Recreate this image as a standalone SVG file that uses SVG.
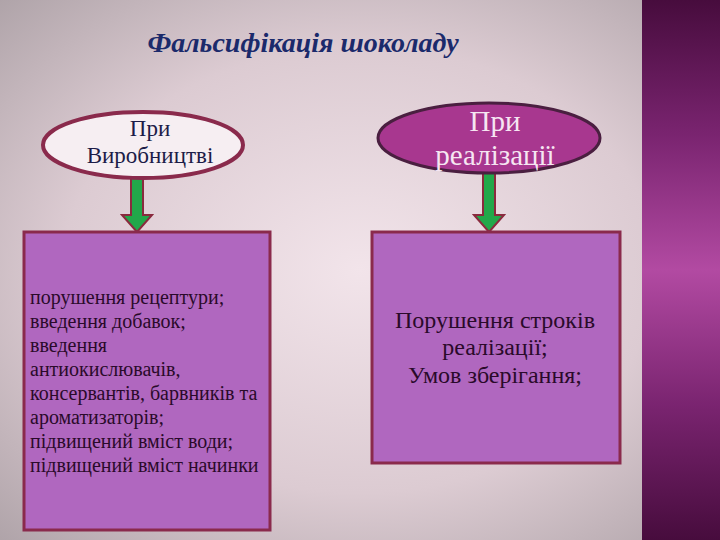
<svg xmlns="http://www.w3.org/2000/svg" width="720" height="540" viewBox="0 0 720 540">
<defs>
<radialGradient id="bg" cx="0.5" cy="0.5" r="0.75">
<stop offset="0" stop-color="#f2e4ea"/>
<stop offset="0.55" stop-color="#dccbd2"/>
<stop offset="1" stop-color="#a99ea3"/>
</radialGradient>
<linearGradient id="band" x1="0" y1="0" x2="0" y2="1">
<stop offset="0" stop-color="#470c3d"/>
<stop offset="0.25" stop-color="#7a2470"/>
<stop offset="0.5" stop-color="#b24aa2"/>
<stop offset="0.75" stop-color="#7a2470"/>
<stop offset="1" stop-color="#470c3d"/>
</linearGradient>
<style>
.box{fill:#b067bf;stroke:#8a2a4c;stroke-width:3}
.arrow{fill:#22a84a;stroke:#8a2a3e;stroke-width:2}
.t{font-family:"Liberation Serif","DejaVu Serif",serif}
</style>
</defs>
<rect x="0" y="0" width="720" height="540" fill="url(#bg)"/>
<rect x="642" y="0" width="78" height="540" fill="url(#band)"/>
<text class="t" x="303" y="52" text-anchor="middle" font-size="28" font-weight="bold" font-style="italic" fill="#1b2a6b">Фальсифікація шоколаду</text>
<g id="connectors">
<path class="arrow" d="M131,178 H143 V215 H152 L137,232 L122,215 H131 Z"/>
<path class="arrow" d="M483,173 H495 V215 H504 L489,232 L474,215 H483 Z"/>
</g>
<g id="node-vyrobnytstvi">
<ellipse cx="143" cy="145" rx="100" ry="33" fill="#f6eef2" stroke="#8a2a4c" stroke-width="4"/>
<text class="t" x="150" y="136" text-anchor="middle" font-size="23" fill="#1c1c48">При</text>
<text class="t" x="150" y="163" text-anchor="middle" font-size="23" fill="#1c1c48">Виробництві</text>
</g>
<g id="node-realizatsii">
<ellipse cx="489" cy="138" rx="111" ry="35" fill="#a8378f" stroke="#4a1f40" stroke-width="3"/>
<text class="t" x="495" y="131" text-anchor="middle" font-size="29" fill="#f6e6f2">При</text>
<text class="t" x="495" y="165" text-anchor="middle" font-size="29" fill="#f6e6f2">реалізації</text>
</g>
<g id="box-left">
<rect class="box" x="24" y="232" width="246" height="298"/>
<g class="t" font-size="20" fill="#2a0a2a">
<text x="30" y="304">порушення рецептури;</text>
<text x="30" y="328">введення добавок;</text>
<text x="30" y="352"> введення</text>
<text x="30" y="376">антиокислювачів,</text>
<text x="30" y="400">консервантів, барвників та</text>
<text x="30" y="424">ароматизаторів;</text>
<text x="30" y="448">підвищений вміст води;</text>
<text x="30" y="472">підвищений вміст начинки</text>
</g>
</g>
<g id="box-right">
<rect class="box" x="372" y="232" width="248" height="231"/>
<g class="t" font-size="24" fill="#2a0a2a" text-anchor="middle">
<text x="495" y="328">Порушення строків</text>
<text x="495" y="355">реалізації;</text>
<text x="495" y="383">Умов зберігання;</text>
</g>
</g>
</svg>
